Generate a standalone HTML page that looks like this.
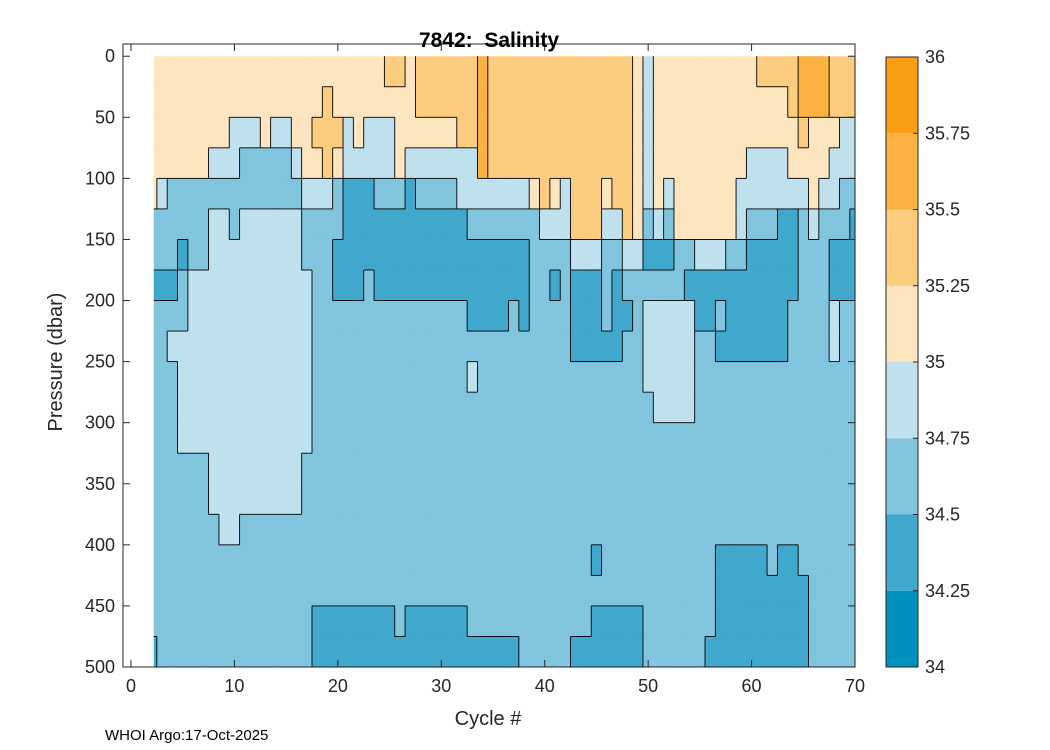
<!DOCTYPE html>
<html><head><meta charset="utf-8"><style>
body{margin:0;background:#fff;}
svg{display:block;font-family:"Liberation Sans",sans-serif;}
</style></head><body>
<svg id="chart" width="1050" height="750" viewBox="0 0 1050 750">
<rect x="0" y="0" width="1050" height="750" fill="#fff"/>
<g id="cells"></g>
<g id="lines"></g>
<g id="axes"></g>
<g id="cbar"></g>
<text x="489" y="47" text-anchor="middle" font-size="21" font-weight="bold" fill="#000" style="white-space:pre" xml:space="preserve">7842:  Salinity</text>
<text x="488" y="725" text-anchor="middle" font-size="20" fill="#262626">Cycle #</text>
<text transform="translate(62,362) rotate(-90)" text-anchor="middle" font-size="20" fill="#262626">Pressure (dbar)</text>
<text x="105" y="740" font-size="15" fill="#000">WHOI Argo:17-Oct-2025</text>
</svg>
<script>
// Salinity class per cell (0:34-34.25 ... 7:35.75-36); cycles 2..70, pressure bins of 25 dbar
const firstCycle = 2;
const binDepth = 25;
const levels = [34, 34.25, 34.5, 34.75, 35, 35.25, 35.5, 35.75, 36];
const levelColors = ["#0091bf","#41a8cd","#80c4de","#bfe1ed","#fde6bf","#fccd7e","#fbb242","#fb9e13"];
const xTicks = [0,10,20,30,40,50,60,70];
const yTicks = [0,50,100,150,200,250,300,350,400,450,500];
const cbTicks = ["34","34.25","34.5","34.75","35","35.25","35.5","35.75","36"];
const grid = [
"4444444444"+"4444444444"+"4445545555"+"5565555555"+"5555555434"+"4444444445"+"555666555",
"4444444444"+"4444444544"+"4444445555"+"5565555555"+"5555555434"+"4444444444"+"445666555",
"4444444433"+"3433445553"+"4333444444"+"5565555555"+"5555555434"+"4444444444"+"444544433",
"4444443332"+"2222344543"+"3333433333"+"3365555555"+"5555555434"+"4444444433"+"334444333",
"4322222222"+"2222233321"+"1122212222"+"3333333454"+"3555455434"+"3444444333"+"333343322",
"2222223323"+"3333322221"+"1111111111"+"1222222233"+"3555335423"+"2444444322"+"211232221",
"2221223333"+"3333322211"+"1111111111"+"1111111222"+"2333223311"+"1223332211"+"111222111",
"1112333333"+"3333332211"+"1211111111"+"1111111221"+"2111212222"+"2211111111"+"111222111",
"2222333333"+"3333332222"+"2222222222"+"2111121222"+"2111211233"+"3331121111"+"112222322",
"2233333333"+"3333332222"+"2222222222"+"2222222222"+"2111112233"+"3332211111"+"112222322",
"2223333333"+"3333332222"+"2222222222"+"2322222222"+"2222222233"+"3332222222"+"222222222",
"2223333333"+"3333332222"+"2222222222"+"2222222222"+"2222222223"+"3332222222"+"222222222",
"2223333333"+"3333332222"+"2222222222"+"2222222222"+"2222222222"+"2222222222"+"222222222",
"2222223333"+"3333322222"+"2222222222"+"2222222222"+"2222222222"+"2222222222"+"222222222",
"2222223333"+"3333322222"+"2222222222"+"2222222222"+"2222222222"+"2222222222"+"222222222",
"2222222332"+"2222222222"+"2222222222"+"2222222222"+"2222222222"+"2222222222"+"222222222",
"2222222222"+"2222222222"+"2222222222"+"2222222222"+"2221222222"+"2222211111"+"211222222",
"2222222222"+"2222222222"+"2222222222"+"2222222222"+"2222222222"+"2222211111"+"111122222",
"2222222222"+"2222221111"+"1111211111"+"1222222222"+"2221111122"+"2222211111"+"111122222",
"1222222222"+"2222221111"+"1111111111"+"1111112222"+"2111111122"+"2222111111"+"111122222"
];
const NS="http://www.w3.org/2000/svg";
const X0=123, X1=855, XMIN=-0.773, XMAX=70, Y0=44, Y1=667, YMIN=-10, YMAX=500;
function X(c){return X0+(c-XMIN)/(XMAX-XMIN)*(X1-X0);}
function Y(p){return Y0+(p-YMIN)/(YMAX-YMIN)*(Y1-Y0);}
function mk(tag,attrs,parent){const e=document.createElementNS(NS,tag);for(const k in attrs)e.setAttribute(k,attrs[k]);parent.appendChild(e);return e;}
const cells=document.getElementById('cells'), lines=document.getElementById('lines');
const nCols=grid[0].length;
function cx0(i){return X(Math.max(firstCycle+i-0.5,2.2));}
function cx1(i){return X(Math.min(firstCycle+i+0.5,70));}
for(let r=0;r<grid.length;r++){
  for(let i=0;i<nCols;i++){
    const v=+grid[r][i];
    const e=mk('rect',{x:cx0(i),y:Y(r*binDepth),width:cx1(i)-cx0(i)+0.6,height:Y((r+1)*binDepth)-Y(r*binDepth)+0.6,fill:levelColors[v]},cells);
    
    
  }
}
for(let r=0;r<grid.length;r++){
  for(let i=0;i<nCols;i++){
    const v=grid[r][i];
    if(i+1<nCols && grid[r][i+1]!==v){
      const l=mk('line',{x1:cx1(i),x2:cx1(i),y1:Y(r*binDepth),y2:Y((r+1)*binDepth),stroke:'#000','stroke-width':0.9},lines);
      
      
    }
    if(r+1<grid.length && grid[r+1][i]!==v){
      const l=mk('line',{x1:cx0(i),x2:cx1(i),y1:Y((r+1)*binDepth),y2:Y((r+1)*binDepth),stroke:'#000','stroke-width':0.9},lines);
      
      
    }
  }
}
const ax=document.getElementById('axes');
const frame=mk('rect',{x:X0,y:Y0,width:X1-X0,height:Y1-Y0,fill:'none',stroke:'#262626','stroke-width':1},ax);


xTicks.forEach(t=>{
  const x=X(t);
  mk('line',{x1:x,x2:x,y1:Y1,y2:Y1-7,stroke:'#262626'},ax);
  mk('line',{x1:x,x2:x,y1:Y0,y2:Y0+7,stroke:'#262626'},ax);
  const tx=mk('text',{x:x,y:Y1+25,'text-anchor':'middle','font-size':18,fill:'#262626'},ax);
  tx.textContent=t;
  
  
});
yTicks.forEach(t=>{
  const y=Y(t);
  mk('line',{x1:X0,x2:X0+7,y1:y,y2:y,stroke:'#262626'},ax);
  mk('line',{x1:X1,x2:X1-7,y1:y,y2:y,stroke:'#262626'},ax);
  const tx=mk('text',{x:X0-8,y:y+6,'text-anchor':'end','font-size':18,fill:'#262626'},ax);
  tx.textContent=t;
  
  
});
const cb=document.getElementById('cbar');
const CB0=886, CB1=918, CBT=57, CBB=667;
function CY(v){return CBB-(v-levels[0])/(levels[levels.length-1]-levels[0])*(CBB-CBT);}
for(let k=0;k<levelColors.length;k++){
  const e=mk('rect',{x:CB0,y:CY(levels[k+1]),width:CB1-CB0,height:CY(levels[k])-CY(levels[k+1]),fill:levelColors[k]},cb);
  
  
}
mk('rect',{x:CB0,y:CBT,width:CB1-CB0,height:CBB-CBT,fill:'none',stroke:'#262626'},cb);
cbTicks.forEach((t,k)=>{
  const y=CY(levels[k]);
  mk('line',{x1:CB1,x2:CB1-5,y1:y,y2:y,stroke:'#262626'},cb);
  const tx=mk('text',{x:CB1+7,y:y+6,'font-size':18,fill:'#262626'},cb);
  tx.textContent=t;
  
  
});
</script>
</body></html>
